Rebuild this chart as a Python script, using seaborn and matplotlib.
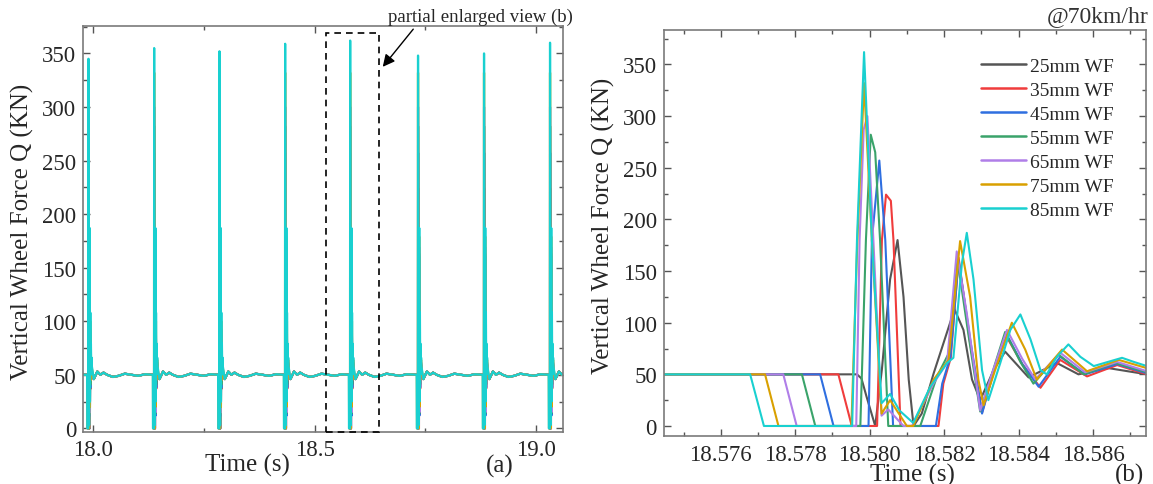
import matplotlib
matplotlib.use("Agg")
import matplotlib.pyplot as plt
import numpy as np
import pandas as pd
import seaborn as sns
from matplotlib.lines import Line2D
from matplotlib.patches import Rectangle, FancyArrowPatch
from matplotlib.ticker import MultipleLocator, FormatStrFormatter

# ---------------- data ----------------
series_labels = ["25mm WF", "35mm WF", "45mm WF", "55mm WF", "65mm WF", "75mm WF", "85mm WF"]
series_colors = ["#555555", "#f03c3c", "#2f6fe0", "#3aa36a", "#b07ee8", "#d9a000", "#19d0d0"]

t_25 = [18.5740, 18.57966, 18.57978, 18.57992, 18.58015, 18.58033, 18.58055, 18.58075, 18.58091, 18.58105,
        18.58118, 18.58140, 18.58172, 18.58228, 18.58252, 18.58275, 18.58297, 18.58333, 18.58364, 18.58427,
        18.58503, 18.58561, 18.58642, 18.58745]
q_25 = [50, 50, 46, 28, 0, 55, 142, 180, 125, 45, 0, 12, 51, 113, 93, 45, 25, 54, 72, 47, 61, 50, 56, 50]

t_35 = [18.5740, 18.57916, 18.57952, 18.58020, 18.58033, 18.58044, 18.58057, 18.58064, 18.58083, 18.58185,
        18.58198, 18.58218, 18.58239, 18.58270, 18.58302, 18.58335, 18.58367, 18.58410, 18.58459, 18.58512,
        18.58584, 18.58665, 18.58745]
q_35 = [50, 50, 0, 0, 180, 224, 218, 180, 0, 0, 41, 66, 163, 80, 13, 55, 87, 60, 37, 64, 48, 59, 50]

t_45 = [18.5740, 18.57867, 18.57903, 18.57997, 18.58006, 18.58026, 18.58042, 18.58063, 18.58178, 18.58195,
        18.58217, 18.58239, 18.58270, 18.58302, 18.58335, 18.58369, 18.58410, 18.58454, 18.58512, 18.58579,
        18.58665, 18.58745]
q_45 = [50, 50, 0, 0, 180, 257, 180, 0, 0, 41, 67, 160, 84, 12, 55, 88, 60, 38, 67, 50, 60, 51]

t_55 = [18.5740, 18.57818, 18.57854, 18.57975, 18.57990, 18.58003, 18.58015, 18.58028, 18.58050, 18.58136,
        18.58181, 18.58212, 18.58236, 18.58266, 18.58297, 18.58330, 18.58364, 18.58405, 18.58440, 18.58508,
        18.58575, 18.58660, 18.58745]
q_55 = [50, 50, 0, 0, 180, 282, 265, 180, 0, 0, 48, 70, 161, 87, 14, 52, 91, 62, 41, 69, 50, 61, 52]

t_65 = [18.5740, 18.57768, 18.57804, 18.57964, 18.57973, 18.57984, 18.57994, 18.58010, 18.58032, 18.58050,
        18.58091, 18.58114, 18.58171, 18.58208, 18.58234, 18.58261, 18.58297, 18.58330, 18.58369, 18.58410,
        18.58445, 18.58512, 18.58579, 18.58665, 18.58745]
q_65 = [50, 50, 0, 0, 180, 287, 300, 180, 10, 16, 0, 0, 41, 61, 169, 109, 15, 52, 93, 65, 45, 71, 52, 62, 53]

t_75 = [18.5740, 18.57719, 18.57755, 18.57951, 18.57967, 18.57985, 18.58006, 18.58032, 18.58055, 18.58100,
        18.58117, 18.58172, 18.58212, 18.58243, 18.58270, 18.58292, 18.58306, 18.58337, 18.58382, 18.58418,
        18.58449, 18.58517, 18.58584, 18.58669, 18.58745]
q_75 = [50, 50, 0, 0, 180, 332, 180, 12, 25, 0, 0, 45, 64, 179, 125, 45, 20, 54, 100, 74, 45, 74, 53, 64, 56]

t_85 = [18.5740, 18.57679, 18.57716, 18.57953, 18.57966, 18.57985, 18.58006, 18.58032, 18.58055, 18.58080,
        18.58117, 18.58163, 18.58208, 18.58225, 18.58248, 18.58261, 18.58279, 18.58302, 18.58319, 18.58351,
        18.58378, 18.58405, 18.58432, 18.58459, 18.58476, 18.58503, 18.58534, 18.58566, 18.58602, 18.58640,
        18.58678, 18.58710, 18.58745]
q_85 = [50, 50, 0, 0, 180, 362, 180, 22, 31, 15, 3, 38, 61, 66, 158, 187, 142, 54, 25, 61, 93, 108, 84, 54,
        50, 67, 79, 67, 58, 62, 66, 62, 58]

series_t = [t_25, t_35, t_45, t_55, t_65, t_75, t_85]
series_q = [q_25, q_35, q_45, q_55, q_65, q_75, q_85]

# full-record panel (a): impacts repeat every wheel revolution
impact_times = [17.9887, 18.1371, 18.2846, 18.4330, 18.5799, 18.7332, 18.8823, 19.0314]
impact_peaks = [345, 355, 352, 359, 362, 348, 350, 360]
ref_impact = 18.57985           # time of the 85mm peak in panel (b)
wobble_dt = [0.012, 0.020, 0.027, 0.034, 0.042, 0.055, 0.068, 0.082, 0.097, 0.112, 0.128]
wobble_q = [46, 53, 50, 52, 50, 48, 49, 51, 50, 49, 50.5]

# ---------------- frames ----------------
rows_b = []
for lab, ts, qs in zip(series_labels, series_t, series_q):
    for t, q in zip(ts, qs):
        rows_b.append((lab, t, q))
df_b = pd.DataFrame(rows_b, columns=["series", "t", "q"])

rows_a = []
for lab, ts, qs in zip(series_labels, series_t, series_q):
    qmax = max(qs)
    rows_a.append((lab, 17.95, 50))
    for it, ipk in zip(impact_times, impact_peaks):
        for t, q in zip(ts, qs):
            qq = ipk if (lab == "85mm WF" and q == qmax) else q
            rows_a.append((lab, t - ref_impact + it, qq))
        for dt, wq in zip(wobble_dt, wobble_q):
            rows_a.append((lab, it + dt, wq))
df_a = pd.DataFrame(rows_a, columns=["series", "t", "q"])

palette = dict(zip(series_labels, series_colors))

# ---------------- style ----------------
sns.set_theme(style="ticks")
plt.rcParams["font.family"] = ["Liberation Serif", "DejaVu Serif"]

W, H = 1153, 485
fig = plt.figure(figsize=(W / 100, H / 100), dpi=100)

axA = fig.add_axes([83.3 / W, 1 - 433.3 / H, (562.7 - 83.3) / W, (433.3 - 27.3) / H])
axB = fig.add_axes([663.8 / W, 1 - 437 / H, (1146.2 - 663.8) / W, (437 - 31) / H])

sns.lineplot(data=df_a, x="t", y="q", hue="series", hue_order=series_labels, palette=palette,
             estimator=None, sort=False, legend=False, linewidth=1.6, ax=axA)
sns.lineplot(data=df_b, x="t", y="q", hue="series", hue_order=series_labels, palette=palette,
             estimator=None, sort=False, legend=False, linewidth=1.5, ax=axB)

axA.set_xlim(17.977, 19.060)
axA.set_ylim(-3.7, 375.3)
axB.set_xlim(18.57447, 18.58743)
axB.set_ylim(-9.7, 383.4)

for ax in (axA, axB):
    ax.set_xlabel("")
    ax.set_ylabel("")
    ax.yaxis.set_major_locator(MultipleLocator(50))
    ax.yaxis.set_minor_locator(MultipleLocator(25))
    ax.tick_params(which="both", direction="in", top=True, right=True, color="#555555", width=1.0)
    ax.tick_params(which="major", length=5, labelsize=16.5, pad=4.5)
    ax.tick_params(which="minor", length=3)
    ax.tick_params(axis="y", pad=5)
    for sp in ax.spines.values():
        sp.set_color("#7a7a7a")
        sp.set_linewidth(1.2)

axA.xaxis.set_major_locator(MultipleLocator(0.5))
axA.xaxis.set_minor_locator(MultipleLocator(0.25))
axA.xaxis.set_major_formatter(FormatStrFormatter("%.1f"))
axB.xaxis.set_major_locator(MultipleLocator(0.002))
axB.xaxis.set_minor_locator(MultipleLocator(0.001))
axB.xaxis.set_major_formatter(FormatStrFormatter("%.3f"))
axB.tick_params(axis="x", which="major", pad=6, labelsize=16.5)

# dashed box showing enlarged region
rect = Rectangle((18.5256, -3.7), 0.1198, 372.7, fill=False, linestyle=(0, (4, 3)),
                 linewidth=1.2, edgecolor="black", clip_on=False, zorder=5)
axA.add_patch(rect)

# annotations
fig.text(480 / W, 1 - 17 / H, "partial enlarged view (b)", ha="center", va="center", fontsize=13.5)
fig.add_artist(FancyArrowPatch(
    (415 / W, 1 - 28 / H), (381 / W, 1 - 70 / H), transform=fig.transFigure,
    arrowstyle="-|>", mutation_scale=18, color="black", linewidth=1.0))
fig.text(1148 / W, 1 - 17 / H, "@70km/hr", ha="right", va="center", fontsize=17, color="#333333")

fig.text(22 / W, 1 - 232 / H, "Vertical Wheel Force Q (KN)", rotation=90, ha="center", va="center", fontsize=18)
fig.text(603 / W, 1 - 226 / H, "Vertical Wheel Force Q (KN)", rotation=90, ha="center", va="center", fontsize=18)
fig.text(247 / W, 1 - 465 / H, "Time (s)", ha="center", va="center", fontsize=18)
fig.text(500 / W, 1 - 466 / H, "(a)", ha="center", va="center", fontsize=18)
fig.text(912 / W, 1 - 475 / H, "Time (s)", ha="center", va="center", fontsize=18)
fig.text(1130 / W, 1 - 475 / H, "(b)", ha="center", va="center", fontsize=18)

handles = [Line2D([0], [0], color=c, lw=1.8) for c in series_colors]
leg = axB.legend(handles, series_labels, loc="upper left", bbox_to_anchor=(981 / W, 1 - 58 / H),
                 bbox_transform=fig.transFigure, frameon=False, fontsize=14, handlelength=2.3,
                 handletextpad=0.2, labelspacing=0.33, borderpad=0, borderaxespad=0)

fig.savefig("out.png", dpi=100)
